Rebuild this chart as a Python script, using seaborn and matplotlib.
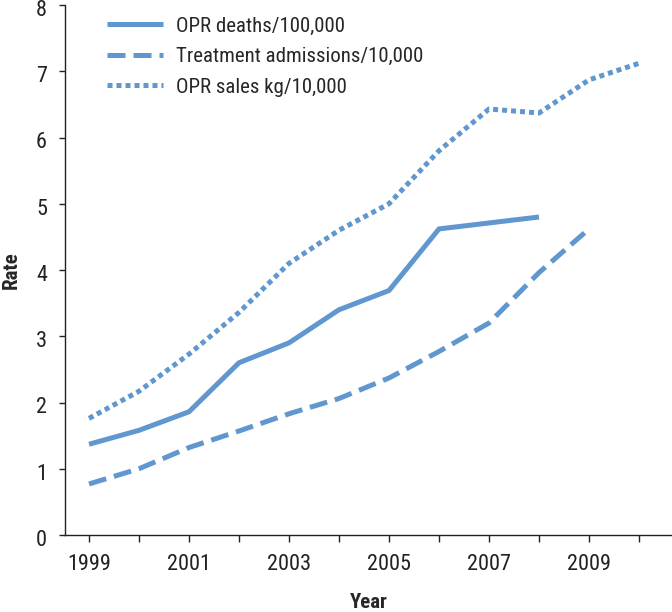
import matplotlib
matplotlib.use('Agg')
import matplotlib.pyplot as plt
import matplotlib.transforms as mtransforms
import seaborn as sns

# Data
years = [1999, 2000, 2001, 2002, 2003, 2004, 2005, 2006, 2007, 2008, 2009, 2010]
deaths = [1.37, 1.58, 1.86, 2.60, 2.90, 3.40, 3.69, 4.62, 4.71, 4.80]
admissions = [0.77, 1.00, 1.32, 1.57, 1.83, 2.06, 2.37, 2.77, 3.20, 3.96, 4.62]
sales = [1.76, 2.17, 2.73, 3.36, 4.10, 4.60, 5.00, 5.80, 6.43, 6.37, 6.87, 7.12]
labels = ['OPR deaths/100,000', 'Treatment admissions/10,000', 'OPR sales kg/10,000']
tick_labels = ['1999', '', '2001', '', '2003', '', '2005', '', '2007', '', '2009', '']

sns.set_style('ticks')
plt.rcParams['font.family'] = ['Roboto Condensed', 'Liberation Sans Narrow', 'Roboto', 'DejaVu Sans']
plt.rcParams['font.stretch'] = 'condensed'

color = '#6097cf'
lw = 3.6

fig = plt.figure(figsize=(6.72, 6.12), dpi=100)
ax = fig.add_axes([65 / 672, 77 / 612, 607 / 672, 530 / 612])

sns.lineplot(x=years[:len(deaths)], y=deaths, ax=ax, color=color, lw=lw,
             label=labels[0], solid_capstyle='butt')
sns.lineplot(x=years[:len(admissions)], y=admissions, ax=ax, color=color, lw=lw,
             label=labels[1], linestyle=(0, (3.6, 1.6)))
sns.lineplot(x=years, y=sales, ax=ax, color=color, lw=lw,
             label=labels[2], linestyle=(0, (1.0, 0.8)))

ax.set_xlim(1998.52, 2010.66)
ax.set_ylim(0, 8)
ax.set_xticks(years)
ax.set_xticklabels(tick_labels)
ax.set_yticks(range(0, 9))
ax.tick_params(axis='both', labelsize=16, colors='#222222', length=4, width=1)
ax.tick_params(axis='x', pad=9, length=5)
ax.tick_params(axis='y', pad=9)
# nudge y tick labels slightly down, as in the reference
offset = mtransforms.ScaledTranslation(0, -2 / 72, fig.dpi_scale_trans)
for t in ax.get_yticklabels():
    t.set_transform(t.get_transform() + offset)
ax.set_xlabel('Year', fontsize=15, fontweight='bold', labelpad=13)
ax.set_ylabel('Rate', fontsize=15, fontweight='bold', labelpad=11)
for side in ['left', 'bottom']:
    ax.spines[side].set_color('#222222')
    ax.spines[side].set_linewidth(1)
sns.despine(ax=ax)

ax.legend(loc='upper left', bbox_to_anchor=(0.069, 0.978), frameon=False,
          fontsize=15, handlelength=2.7, handletextpad=0.62, labelspacing=0.55,
          borderpad=0, borderaxespad=0)

fig.savefig('out.png', dpi=100)
